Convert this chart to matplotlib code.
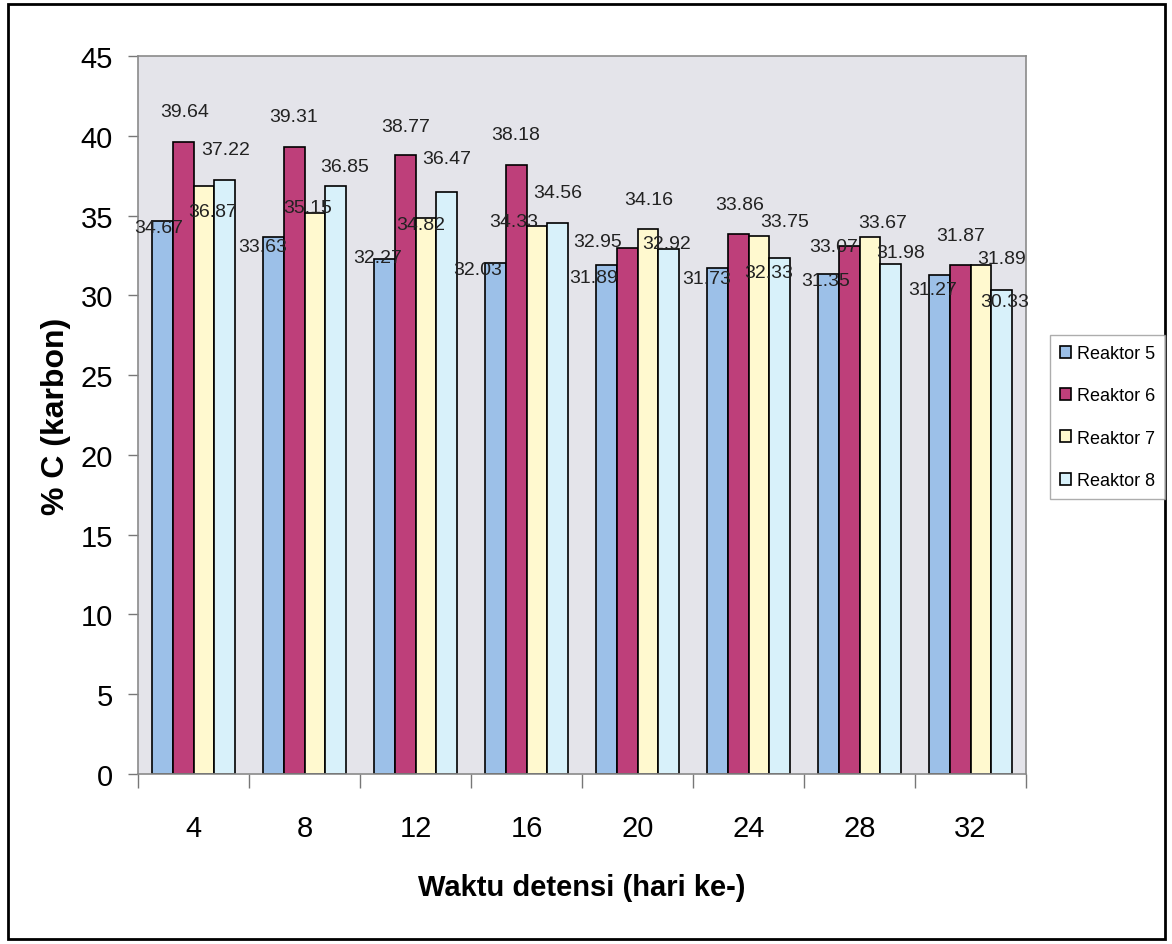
import matplotlib

matplotlib.use("Agg")
import matplotlib.pyplot as plt
import numpy as np
from matplotlib.patches import Patch, Rectangle

# --- datos: % C por reactor y día de detención ---
hari = ["4", "8", "12", "16", "20", "24", "28", "32"]
reaktor_5 = [34.67, 33.63, 32.27, 32.03, 31.89, 31.73, 31.35, 31.27]
reaktor_6 = [39.64, 39.31, 38.77, 38.18, 32.95, 33.86, 33.07, 31.87]
reaktor_7 = [36.87, 35.15, 34.82, 34.33, 34.16, 33.75, 33.67, 31.89]
reaktor_8 = [37.22, 36.85, 36.47, 34.56, 32.92, 32.33, 31.98, 30.33]
series = ["Reaktor 5", "Reaktor 6", "Reaktor 7", "Reaktor 8"]

# desplazamiento de las etiquetas (x en píxeles, y en unidades de %C)
label_dx = [
    [-4, -11, -7, -18, -13, -11, -3, -7],
    [2, 0, 1, 0, -29, 2, -15, 1],
    [9, -7, -5, -23, 1, 26, 13, 21],
    [1, 9, 0, 0, -2, -11, 10, 3],
]
label_dy = [
    [-0.4, -0.6, 0.1, -0.4, -0.8, -0.7, -0.4, -0.9],
    [1.9, 1.9, 1.8, 1.9, 0.45, 1.85, 0.0, 1.85],
    [-1.6, 0.35, -0.4, 0.3, 1.85, 0.9, 0.9, 0.4],
    [1.94, 1.25, 2.1, 1.9, 0.3, -0.9, 0.7, -0.7],
]

colors = ["#9CC0E8", "#BE3F7A", "#FFF9CF", "#D8F1FA"]
FONT = ["Liberation Sans", "DejaVu Sans"]


def main() -> None:
    fig = plt.figure(figsize=(11.72, 9.45), dpi=100)
    ax = fig.add_axes([138 / 1172, 1 - 775 / 945, (1026 - 138) / 1172, (775 - 57) / 945])
    ax.set_facecolor("#E4E4EA")

    values = [reaktor_5, reaktor_6, reaktor_7, reaktor_8]
    x = np.arange(len(hari))
    w = 0.1875
    for i, (name, vals) in enumerate(zip(series, values)):
        xs = x + (i - 1.5) * w
        ax.bar(xs, vals, width=w, color=colors[i], edgecolor="black",
               linewidth=1.2, label=name, zorder=2)
        for j, v in enumerate(vals):
            ax.annotate(f"{v:.2f}", xy=(xs[j], v + label_dy[i][j]),
                        xytext=(label_dx[i][j], 0), textcoords="offset pixels",
                        ha="center", va="center", fontsize=14,
                        family=FONT, color="#222222", zorder=3)

    ax.set_xlim(-0.5, len(hari) - 0.5)
    ax.set_ylim(0, 45)
    ax.set_yticks(np.arange(0, 46, 5))
    ax.set_yticklabels([str(t) for t in range(0, 46, 5)], family=FONT, fontsize=21)
    ax.tick_params(axis="y", length=7, width=1, color="#777777", pad=11)

    # marcas en los límites de grupo, etiquetas en el centro
    ax.set_xticks(np.arange(len(hari) + 1) - 0.5)
    ax.set_xticklabels([])
    ax.set_xticks(x, minor=True)
    ax.set_xticklabels(hari, minor=True, family=FONT, fontsize=21)
    ax.tick_params(axis="x", which="major", length=10, width=1, color="#777777")
    ax.tick_params(axis="x", which="minor", length=0, pad=29)

    for sp in ax.spines.values():
        sp.set_color("#8A8A8A")
        sp.set_linewidth(1.2)

    ax.set_xlabel("Waktu detensi (hari ke-)", family=FONT, fontsize=21,
                  fontweight="bold")
    ax.xaxis.set_label_coords(0.5, -0.138)
    ax.set_ylabel("% C (karbon)", family=FONT, fontsize=23, fontweight="bold")
    ax.yaxis.set_label_coords(-0.092, 0.5)
    ax.yaxis.label.set_va("center")

    handles = [Patch(facecolor=c, edgecolor="black", linewidth=1.2) for c in colors]
    leg = fig.legend(handles, series, loc="center left",
                     bbox_to_anchor=(1046 / 1172, 1 - 418 / 945),
                     prop={"family": FONT, "size": 13},
                     handlelength=0.65, handleheight=0.65, handletextpad=0.3,
                     labelspacing=1.4, borderpad=0.55, borderaxespad=0.2,
                     fancybox=False, frameon=True)
    leg.get_frame().set_edgecolor("#999999")
    leg.get_frame().set_linewidth(1.0)

    # marco exterior del gráfico
    fig.patches.append(Rectangle((8 / 1172, 1 - 940 / 945), 1157 / 1172, 935 / 945,
                                 transform=fig.transFigure, fill=False,
                                 edgecolor="black", linewidth=2))

    fig.savefig("out.png", dpi=100)
    plt.close(fig)


if __name__ == "__main__":
    main()
